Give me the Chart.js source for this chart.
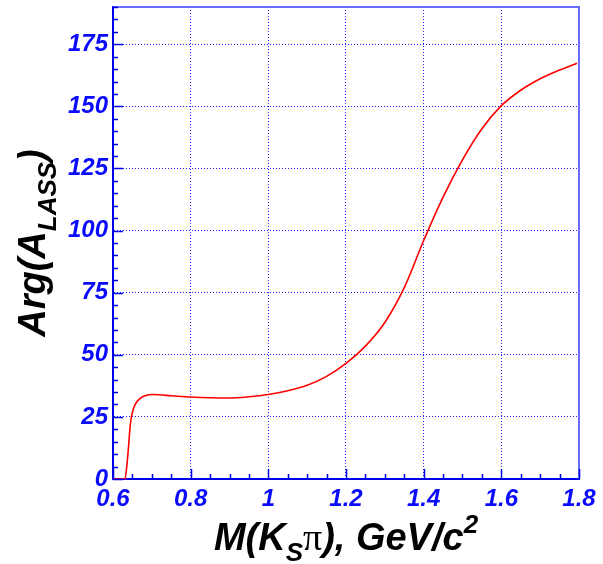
<!DOCTYPE html>
<html>
<head>
<meta charset="utf-8">
<script src="https://cdn.jsdelivr.net/npm/chart.js@4/dist/chart.umd.min.js"></script>
<style>
  html, body { margin: 0; padding: 0; background: #ffffff; }
  #wrap { width: 603px; height: 564px; }
</style>
</head>
<body>
<div id="wrap"><canvas id="c" width="603" height="564"></canvas></div>
<script>
// LASS amplitude phase versus K_S pi invariant mass
const massGeV  = [0.600, 0.631, 0.636, 0.640, 0.644, 0.648, 0.653, 0.660, 0.670, 0.685,
                  0.700, 0.720, 0.750, 0.800, 0.850, 0.900, 0.950, 1.000, 1.050, 1.100,
                  1.150, 1.200, 1.250, 1.300, 1.350, 1.400, 1.450, 1.500, 1.550, 1.600,
                  1.650, 1.700, 1.750, 1.795];
const phaseDeg = [0.0, 0.0, 6.0, 13.0, 21.0, 25.5, 28.5, 30.8, 32.5, 33.6,
                  34.0, 33.9, 33.5, 33.0, 32.7, 32.6, 33.1, 34.0, 35.5, 37.7,
                  41.3, 46.5, 53.5, 63.0, 77.0, 96.0, 113.5, 128.5, 141.0, 150.3,
                  156.5, 161.1, 164.6, 167.4];

const xTicks = [0.6, 0.8, 1.0, 1.2, 1.4, 1.6, 1.8];
const xTickLabels = ['0.6', '0.8', '1', '1.2', '1.4', '1.6', '1.8'];
const yTicks = [0, 25, 50, 75, 100, 125, 150, 175];
const yTickLabels = ['0', '25', '50', '75', '100', '125', '150', '175'];

const X_MIN = 0.6, X_MAX = 1.8, Y_MIN = 0, Y_MAX = 190;
const X_MINOR_STEP = 0.05, Y_MINOR_STEP = 5;

const AXIS_BLUE = '#0000e8';
const LABEL_BLUE = '#0a0aff';
const FRAME_LIGHT = '#6a6aff';
const SANS = '"Liberation Sans", Arial, sans-serif';

// Frame, inward tick marks and axis titles with sub/superscripts
const decorations = {
  id: 'decorations',
  afterDatasetsDraw(chart) {
    const {ctx, chartArea: a, scales: {x, y}} = chart;
    ctx.save();
    // top and right frame
    ctx.strokeStyle = FRAME_LIGHT;
    ctx.lineWidth = 2;
    ctx.beginPath();
    ctx.moveTo(a.left, a.top);
    ctx.lineTo(a.right, a.top);
    ctx.lineTo(a.right, a.bottom);
    ctx.stroke();

    // ticks along the left axis
    ctx.strokeStyle = AXIS_BLUE;
    ctx.lineWidth = 1.5;
    ctx.beginPath();
    for (let v = Y_MIN; v <= Y_MAX + 1e-9; v += Y_MINOR_STEP) {
      const py = Math.round(y.getPixelForValue(v)) + 0.5;
      const major = yTicks.includes(Math.round(v));
      ctx.moveTo(a.left, py);
      ctx.lineTo(a.left + (major ? 10 : 5), py);
    }
    // ticks along the bottom axis
    for (let i = 0; X_MIN + i * X_MINOR_STEP <= X_MAX + 1e-9; i++) {
      const v = X_MIN + i * X_MINOR_STEP;
      const px = Math.round(x.getPixelForValue(v)) + 0.5;
      const major = i % 4 === 0;
      ctx.moveTo(px, a.bottom);
      ctx.lineTo(px, a.bottom - (major ? 10 : 5));
    }
    ctx.stroke();

    // x-axis title: M(K_S pi), GeV/c^2
    ctx.fillStyle = '#000000';
    ctx.textBaseline = 'alphabetic';
    ctx.textAlign = 'left';
    const big = 'italic bold 38px ' + SANS;
    const small = 'italic bold 26px ' + SANS;
    const piFont = '38px "Liberation Serif", "DejaVu Serif", serif';
    const parts = [
      {t: 'M(K', f: big, dy: 0},
      {t: 'S', f: small, dy: 11},
      {t: '\u03c0', f: piFont, dy: 0},
      {t: '), GeV/c', f: big, dy: 0},
      {t: '2', f: small, dy: -17}
    ];
    let w = 0;
    parts.forEach(p => { ctx.font = p.f; p.w = ctx.measureText(p.t).width; w += p.w; });
    let cx = (a.left + a.right) / 2 - w / 2;
    const base = 550;
    parts.forEach(p => { ctx.font = p.f; ctx.fillText(p.t, cx, base + p.dy); cx += p.w; });

    // y-axis title: Arg(A_LASS)
    const yparts = [
      {t: 'Arg(A', f: big, dy: 0},
      {t: 'LASS', f: small, dy: 11},
      {t: ')', f: big, dy: 0}
    ];
    let wy = 0;
    yparts.forEach(p => { ctx.font = p.f; p.w = ctx.measureText(p.t).width; wy += p.w; });
    ctx.translate(45, (a.top + a.bottom) / 2);
    ctx.rotate(-Math.PI / 2);
    let cy = -wy / 2;
    yparts.forEach(p => { ctx.font = p.f; ctx.fillText(p.t, cy, p.dy); cy += p.w; });
    ctx.restore();
  }
};

new Chart(document.getElementById('c'), {
  type: 'line',
  data: {
    datasets: [{
      data: massGeV.map((m, i) => ({x: m, y: phaseDeg[i]})),
      borderColor: '#ff0000',
      borderWidth: 1.6,
      pointRadius: 0,
      fill: false,
      cubicInterpolationMode: 'monotone'
    }]
  },
  options: {
    responsive: false,
    animation: false,
    devicePixelRatio: 1,
    layout: { autoPadding: false, padding: { left: 0, top: 7, right: 24, bottom: 0 } },
    plugins: { legend: { display: false }, tooltip: { enabled: false } },
    scales: {
      x: {
        type: 'linear',
        min: X_MIN, max: X_MAX,
        afterBuildTicks: s => { s.ticks = xTicks.map(v => ({value: v})); },
        afterFit: s => { s.height = 85; s.paddingLeft = 0; s.paddingRight = 0; },
        ticks: {
          autoSkip: false, maxRotation: 0, padding: 6,
          color: LABEL_BLUE,
          font: { family: SANS, size: 24, style: 'italic', weight: 'bold' },
          callback: (v, i) => xTickLabels[i]
        },
        grid: { color: '#1f1fff', lineWidth: 1, drawTicks: false },
        border: { display: true, color: AXIS_BLUE, width: 2, dash: [1, 2] }
      },
      y: {
        type: 'linear',
        min: Y_MIN, max: Y_MAX,
        afterBuildTicks: s => { s.ticks = yTicks.map(v => ({value: v})); },
        afterFit: s => { s.width = 113; s.paddingTop = 0; s.paddingBottom = 0; },
        ticks: {
          padding: 5,
          color: LABEL_BLUE,
          font: { family: SANS, size: 24, style: 'italic', weight: 'bold' },
          callback: (v, i) => yTickLabels[i]
        },
        grid: { color: '#1f1fff', lineWidth: 1, drawTicks: false },
        border: { display: true, color: AXIS_BLUE, width: 2, dash: [1, 2] }
      }
    }
  },
  plugins: [decorations]
});
</script>
</body>
</html>
